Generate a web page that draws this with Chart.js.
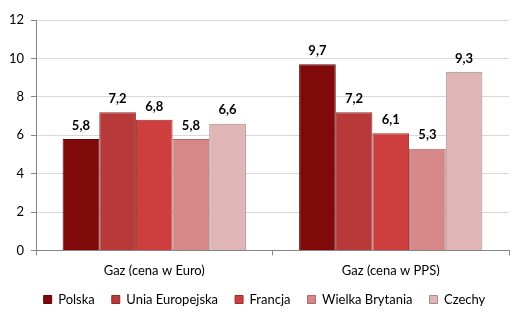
<!DOCTYPE html>
<html lang="pl">
<head>
  <meta charset="UTF-8">
  <title>Gaz</title>
  <script src="https://cdn.jsdelivr.net/npm/chart.js"></script>
  <style>
    html, body { margin: 0; padding: 0; background: #fff; }
    #wrap { width: 524px; height: 317px; }
  </style>
</head>
<body>
  <div id="wrap"><canvas id="chart"></canvas></div>

  <script>
    // Dane
    const categories = ['Gaz (cena w Euro)', 'Gaz (cena w PPS)'];
    const countries = ['Polska', 'Unia Europejska', 'Francja', 'Wielka Brytania', 'Czechy'];
    const polska = [5.8, 9.7];
    const uniaEuropejska = [7.2, 7.2];
    const francja = [6.8, 6.1];
    const wielkaBrytania = [5.8, 5.3];
    const czechy = [6.6, 9.3];
    const yTicks = [0, 2, 4, 6, 8, 10, 12];

    const colors = ['#800a0a', '#b8393a', '#cf3e3e', '#d68888', '#dfb5b5'];
    const borders = ['#5e0707', '#8e2a2b', '#9e2e2e', '#a86a6a', '#a88a8a'];
    const series = [polska, uniaEuropejska, francja, wielkaBrytania, czechy];

    const FONT = 'Lato, "Open Sans", sans-serif';

    // etykiety nad słupkami
    const valueLabels = {
      id: 'valueLabels',
      afterDatasetsDraw(chart) {
        const ctx = chart.ctx;
        ctx.save();
        ctx.font = 'bold 13px ' + FONT;
        ctx.fillStyle = '#000';
        ctx.textAlign = 'center';
        ctx.textBaseline = 'bottom';
        chart.data.datasets.forEach((ds, i) => {
          chart.getDatasetMeta(i).data.forEach((bar, j) => {
            const txt = ds.data[j].toFixed(1).replace('.', ',');
            ctx.fillText(txt, bar.x, bar.y - 7);
          });
        });
        ctx.restore();
      }
    };

    // legenda troche w prawo
    const legendShift = {
      id: 'legendShift',
      afterLayout(chart) {
        chart.legend.left += 10;
        chart.legend.right += 10;
      }
    };

    new Chart(document.getElementById('chart'), {
      type: 'bar',
      data: {
        labels: categories,
        datasets: countries.map((name, i) => ({
          label: name,
          data: series[i],
          backgroundColor: colors[i],
          borderColor: borders[i],
          borderWidth: 1,
          barPercentage: 1,
          categoryPercentage: 0.775
        }))
      },
      options: {
        responsive: true,
        maintainAspectRatio: false,
        animation: false,
        layout: { padding: { top: 20, right: 15, left: 0, bottom: 1 } },
        plugins: {
          legend: {
            position: 'bottom',
            labels: {
              font: { family: FONT, size: 13 },
              color: '#000',
              usePointStyle: true,
              pointStyle: 'rect',
              boxWidth: 8,
              boxHeight: 8,
              padding: 17
            }
          },
          tooltip: { enabled: false }
        },
        scales: {
          x: {
            afterFit(axis) { axis.height = axis.height - 11; },
            grid: {
              offset: true,
              drawOnChartArea: false,
              tickLength: 5,
              color: '#868686'
            },
            border: { color: '#868686' },
            ticks: {
              font: { family: FONT, size: 13 },
              color: '#000',
              padding: 8
            }
          },
          y: {
            min: 0,
            max: 12,
            afterBuildTicks(axis) {
              axis.ticks = yTicks.map(v => ({ value: v }));
            },
            afterFit(axis) { axis.width = 36; },
            grid: {
              color: '#d9d9d9',
              tickColor: '#868686',
              tickLength: 5
            },
            border: { color: '#868686' },
            ticks: {
              font: { family: FONT, size: 13 },
              color: '#000',
              padding: 7
            }
          }
        }
      },
      plugins: [valueLabels, legendShift]
    });
  </script>
</body>
</html>
